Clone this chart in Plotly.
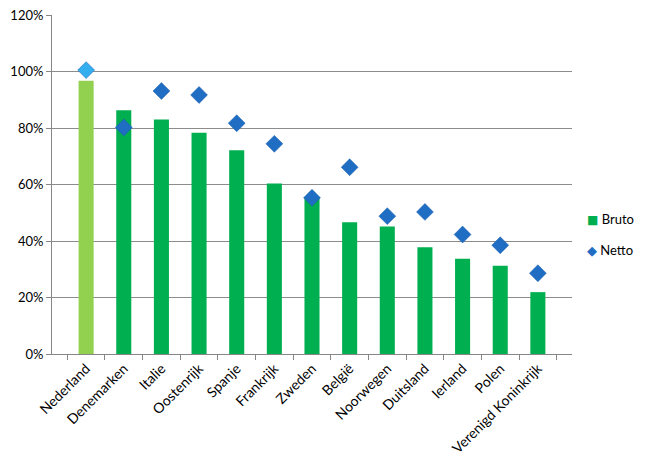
import plotly.graph_objects as go

countries = ["Nederland", "Denemarken", "Italie", "Oostenrijk", "Spanje", "Frankrijk",
             "Zweden", "België", "Noorwegen", "Duitsland", "Ierland", "Polen",
             "Verenigd Koninkrijk"]
bruto = [0.967, 0.863, 0.830, 0.783, 0.721, 0.604, 0.555, 0.466, 0.451, 0.378, 0.337, 0.312, 0.219]
netto = [1.005, 0.802, 0.931, 0.917, 0.817, 0.744, 0.553, 0.661, 0.488, 0.503, 0.423, 0.385, 0.286]
y_ticks = [0, 0.2, 0.4, 0.6, 0.8, 1.0, 1.2]
series_names = ["Bruto", "Netto"]

bar_colors = ["#92D050"] + ["#00B050"] * (len(countries) - 1)
dia_colors = ["#33AEEF"] + ["#1F6EC4"] * (len(countries) - 1)

fig = go.Figure()
fig.add_trace(go.Bar(x=countries, y=bruto, name=series_names[0],
                     marker=dict(color=bar_colors, line=dict(width=0))))
fig.add_trace(go.Scatter(x=countries, y=netto, name=series_names[1], mode="markers",
                         marker=dict(symbol="diamond", size=13, color=dia_colors,
                                     line=dict(width=0.5, color="#1A5DA8"))))

# legend drawn as text (keeps the dark series colours of the reference legend)
legend_items = [
    ("<span style='color:#00B050;font-size:12px'>■</span>", series_names[0], 0.397),
    ("<span style='color:#1F6EC4;font-size:13px'>◆</span>", series_names[1], 0.308),
]
annotations = [
    dict(xref="paper", yref="paper", x=1.025, y=yy, xanchor="left", yanchor="middle",
         text=sym + " " + name, showarrow=False,
         font=dict(size=13, color="#000000", family="Lato, DejaVu Sans, sans-serif"))
    for sym, name, yy in legend_items
]

fig.update_layout(
    width=650, height=465,
    margin=dict(l=44, r=86, t=7, b=119),
    paper_bgcolor="white", plot_bgcolor="white",
    font=dict(family="Lato, Open Sans, sans-serif", size=14, color="#000000"),
    bargap=0.6,
    showlegend=False,
    annotations=annotations,
    xaxis=dict(tickangle=-45, ticks="outside", tickson="boundaries", ticklen=5,
               tickcolor="#868686", showline=True, linecolor="#868686", linewidth=1,
               showgrid=False, tickfont=dict(size=14), automargin=False),
    yaxis=dict(range=[0, 1.2001], tickvals=y_ticks, tickformat=".0%",
               ticklabeloverflow="allow",
               showgrid=True, gridcolor="#8C8C8C", gridwidth=1,
               showline=True, linecolor="#868686", linewidth=1,
               ticks="outside", ticklen=5, tickcolor="#868686",
               zeroline=False, tickfont=dict(size=13), automargin=False),
)

fig.write_html("out.html")
